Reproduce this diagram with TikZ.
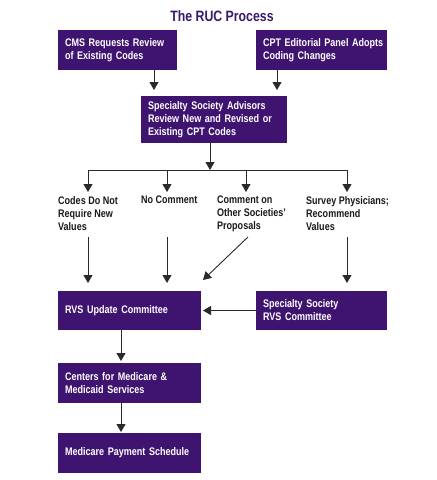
\documentclass[tikz,border=0pt]{standalone}
\usepackage{fontspec}
\setmainfont{Liberation Sans}[FakeStretch=0.82]
\usetikzlibrary{arrows.meta}
\definecolor{rucpurple}{HTML}{3F1470}
\definecolor{titlepurple}{HTML}{3A1A6A}
\definecolor{lineg}{HTML}{2A2A2A}
\tikzset{
  box/.style={fill=rucpurple, draw=none, text=white, font=\bfseries\fontsize{11}{13}\selectfont,
    align=left, inner xsep=7pt, inner ysep=0pt, minimum height=#1, anchor=center},
  lbl/.style={text=black!90, font=\bfseries\fontsize{11}{13}\selectfont, align=left,
    anchor=north west, inner sep=0pt},
  arr/.style={draw=lineg, line width=0.9pt, -{Triangle[width=9pt,length=8pt]}},
  ln/.style={draw=lineg, line width=0.9pt}
}
\begin{document}
\begin{tikzpicture}[x=1pt,y=-1pt]
\useasboundingbox[fill=white] (0,0) rectangle (437,480);
\node[text=titlepurple, font=\bfseries\fontsize{15}{17}\selectfont] (title) at (222,16) {The RUC Process};

\node[box=40pt, text width=105pt] (cms) at (117.5,50) {CMS Requests Review\\of Existing Codes};
\node[box=40pt, text width=117pt] (cpt) at (321.5,50) {\mbox{CPT Editorial Panel Adopts}\\Coding Changes};
\node[box=47pt, text width=132pt] (ssa) at (214,119.5) {Specialty Society Advisors\\Review New and Revised or\\Existing CPT Codes};

\node[lbl] (l1) at (58,196) {Codes Do Not\\Require New\\Values};
\node[lbl] (l2) at (141,196) {No Comment};
\node[lbl] (l3) at (217,196) {Comment on\\Other Societies'\\Proposals};
\node[lbl] (l4) at (306,196) {Survey Physicians;\\Recommend\\Values};

\node[box=39pt, text width=129pt] (rvs) at (129.5,310.5) {RVS Update Committee};
\node[box=39pt, text width=117pt] (ssr) at (321.5,310.5) {Specialty Society\\RVS Committee};
\node[box=40pt, text width=129pt] (cmms) at (129.5,383) {Centers for Medicare \&\\Medicaid Services};
\node[box=40pt, text width=129pt] (mps) at (129.5,453) {Medicare Payment Schedule};

% top arrows
\coordinate (cmsout) at (154,70);
\coordinate (cmsin) at (154,90);
\coordinate (cptout) at (277,70);
\coordinate (cptin) at (277,90);
\draw[arr] (cmsout) -- (cmsin);
\draw[arr] (cptout) -- (cptin);

% bus
\coordinate (ssaout) at (210,143);
\coordinate (busc) at (210,170);
\coordinate (b1) at (88,170);
\coordinate (b2) at (167,170);
\coordinate (b3) at (246,170);
\coordinate (b4) at (347,170);
\draw[arr] (ssaout) -- (busc);
\draw[ln] (b1) -- (b4);
\coordinate (t1) at (88,192);
\coordinate (t2) at (167,192);
\coordinate (t3) at (246,192);
\coordinate (t4) at (347,192);
\draw[arr] (b1) -- (t1);
\draw[arr] (b2) -- (t2);
\draw[arr] (b3) -- (t3);
\draw[arr] (b4) -- (t4);

% label arrows
\coordinate (s1) at (88,237);
\coordinate (s2) at (167,237);
\coordinate (s3) at (248,237);
\coordinate (s4) at (347,237);
\coordinate (e1) at (88,283);
\coordinate (e2) at (167,283);
\coordinate (e3) at (203,280);
\coordinate (e4) at (347,283);
\draw[arr] (s1) -- (e1);
\draw[arr] (s2) -- (e2);
\draw[arr] (s3) -- (e3);
\draw[arr] (s4) -- (e4);

% lower arrows
\coordinate (ssrin) at (203,310.5);
\draw[arr] (ssr.west) -- (ssrin);
\coordinate (c1) at (121,330);
\coordinate (c2) at (121,361);
\coordinate (c3) at (121,403);
\coordinate (c4) at (121,432);
\draw[arr] (c1) -- (c2);
\draw[arr] (c3) -- (c4);
\end{tikzpicture}
\end{document}
